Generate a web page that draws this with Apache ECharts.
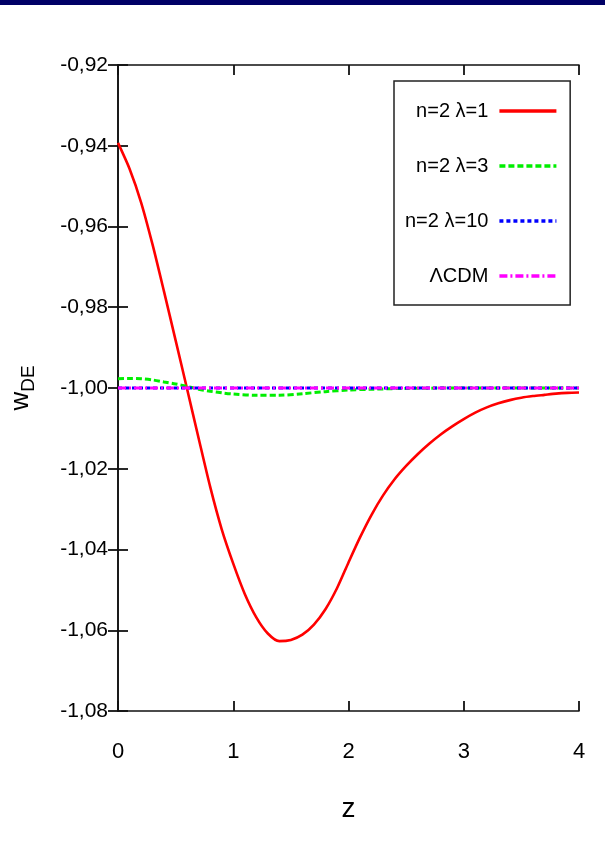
<!DOCTYPE html>
<html><head><meta charset="utf-8">
<script src="https://cdn.jsdelivr.net/npm/echarts@6/dist/echarts.min.js"></script>
<style>html,body{margin:0;padding:0;background:#fff}#c{width:605px;height:864px}</style>
</head><body><div id="c"></div>
<script>
// ---- data ----
const zRed = [0,0.1,0.2,0.3,0.4,0.5,0.6,0.7,0.8,0.9,1.0,1.1,1.2,1.3,1.4,1.5,1.6,1.7,1.8,1.9,2.0,2.1,2.2,2.3,2.4,2.5,2.6,2.7,2.8,2.9,3.0,3.1,3.2,3.3,3.4,3.5,3.6,3.7,3.8,3.9,4.0];
const wRed = [-0.9393,-0.9457,-0.9540,-0.9645,-0.9762,-0.9882,-1.0003,-1.0125,-1.0245,-1.0350,-1.0435,-1.0510,-1.0568,-1.0608,-1.0627,-1.0624,-1.0611,-1.0586,-1.0548,-1.0496,-1.0432,-1.0370,-1.0314,-1.0266,-1.0226,-1.0193,-1.0164,-1.0138,-1.0115,-1.0095,-1.0077,-1.0061,-1.0048,-1.0038,-1.0030,-1.0024,-1.0020,-1.0017,-1.0014,-1.0012,-1.0011];
const zGreen = [0,0.1,0.2,0.3,0.4,0.5,0.6,0.7,0.8,0.9,1.0,1.2,1.4,1.6,1.8,2.0,2.2,2.5,3.0,3.5,4.0];
const wGreen = [-0.9977,-0.99765,-0.9977,-0.9980,-0.9985,-0.9990,-0.9996,-1.0003,-1.0008,-1.0012,-1.0015,-1.0018,-1.0018,-1.0014,-1.0009,-1.0005,-1.0003,-1.0001,-1.0000,-1.0000,-1.0000];
const zBlue = [0,1,2,3,4];
const wBlue = [-1.0,-1.0,-1.0,-1.0,-1.0];
const zLCDM = [0,1,2,3,4];
const wLCDM = [-1.0,-1.0,-1.0,-1.0,-1.0];
const seriesNames = ['n=2 λ=1','n=2 λ=3','n=2 λ=10','ΛCDM'];
const xTickLabels = ['0','1','2','3','4'];
const yTickLabels = ['-1,08','-1,06','-1,04','-1,02','-1,00','-0,98','-0,96','-0,94','-0,92']; // bottom to top
const X_MIN = 0, X_MAX = 4, X_STEP = 1;
const Y_MIN = -1.08, Y_MAX = -0.92, Y_STEP = 0.02;

const FONT = "'Liberation Sans', Arial, Helvetica, sans-serif";
const zip = (a, b) => a.map((v, i) => [v, b[i]]);

const chart = echarts.init(document.getElementById('c'), null, {renderer: 'canvas'});

const axisLineStyle = {color: '#111', width: 1.6};
const tick = {show: true, inside: true, length: 10, lineStyle: {color: '#111', width: 1.8}};

const xLabelFmt = v => xTickLabels[Math.round((v - X_MIN) / X_STEP)];
const yLabelFmt = v => yTickLabels[Math.round((v - Y_MIN) / Y_STEP)];

const option = {
  animation: false,
  backgroundColor: '#fff',
  graphic: [{type: 'rect', left: 0, top: 0, shape: {width: 605, height: 5}, style: {fill: '#000066'}}],
  grid: {left: 118, right: 26, top: 65, bottom: 153},
  xAxis: [{
    type: 'value', min: X_MIN, max: X_MAX, interval: X_STEP, position: 'bottom',
    axisLine: {show: true, lineStyle: axisLineStyle}, axisTick: tick, splitLine: {show: false},
    axisLabel: {formatter: xLabelFmt, margin: 30, fontSize: 22, color: '#000', fontFamily: FONT},
    name: 'z', nameLocation: 'middle', nameGap: 84,
    nameTextStyle: {fontSize: 28, color: '#000', fontFamily: FONT}
  }, {
    type: 'value', min: X_MIN, max: X_MAX, interval: X_STEP, position: 'top',
    axisLine: {show: true, lineStyle: axisLineStyle}, axisTick: tick, splitLine: {show: false},
    axisLabel: {show: false}
  }],
  yAxis: [{
    type: 'value', min: Y_MIN, max: Y_MAX, interval: Y_STEP, position: 'left',
    axisLine: {show: true, lineStyle: axisLineStyle}, axisTick: tick, splitLine: {show: false},
    axisLabel: {formatter: yLabelFmt, margin: 10, fontSize: 21, color: '#000', fontFamily: FONT},
    name: '{w|w}{s|DE}', nameLocation: 'middle', nameGap: 80,
    nameTextStyle: {color: '#000', fontFamily: FONT, rich: {
      w: {fontSize: 26, lineHeight: 34, fontFamily: FONT, color: '#000'},
      s: {fontSize: 19, lineHeight: 18, verticalAlign: 'bottom', fontFamily: FONT, color: '#000'}
    }}
  }, {
    type: 'value', min: Y_MIN, max: Y_MAX, interval: Y_STEP, position: 'right',
    axisLine: {show: true, lineStyle: axisLineStyle}, axisTick: tick, splitLine: {show: false},
    axisLabel: {show: false}
  }],
  legend: {
    orient: 'vertical', left: 394, top: 81, align: 'right',
    itemWidth: 57, itemHeight: 20, itemGap: 35,
    padding: [20, 12, 19, 11],
    borderColor: '#222', borderWidth: 1.5, backgroundColor: '#fff',
    selectedMode: false,
    itemStyle: {opacity: 0, color: 'rgba(0,0,0,0)', borderWidth: 0},
    lineStyle: {width: 3.5},
    textStyle: {fontSize: 20, lineHeight: 20, color: '#000', fontFamily: FONT, padding: [0, 6, 0, 0]},
    data: seriesNames
  },
  series: [
    {name: seriesNames[0], type: 'line', data: zip(zRed, wRed), smooth: 0.25, symbol: 'none', showSymbol: false,
     lineStyle: {color: '#ff0000', width: 2.6, type: 'solid'}, itemStyle: {color: '#ff0000'}},
    {name: seriesNames[1], type: 'line', data: zip(zGreen, wGreen), smooth: 0.3, symbol: 'none', showSymbol: false,
     lineStyle: {color: '#00ee00', width: 3, type: [6, 3]}, itemStyle: {color: '#00ee00'}},
    {name: seriesNames[2], type: 'line', data: zip(zBlue, wBlue), symbol: 'none', showSymbol: false,
     lineStyle: {color: '#0000ff', width: 3, type: [4, 3]}, itemStyle: {color: '#0000ff'}},
    {name: seriesNames[3], type: 'line', data: zip(zLCDM, wLCDM), symbol: 'none', showSymbol: false,
     lineStyle: {color: '#ff00ff', width: 3, type: [8, 3, 2, 3]}, itemStyle: {color: '#ff00ff'}}
  ]
};
chart.setOption(option);
</script>
</body></html>
